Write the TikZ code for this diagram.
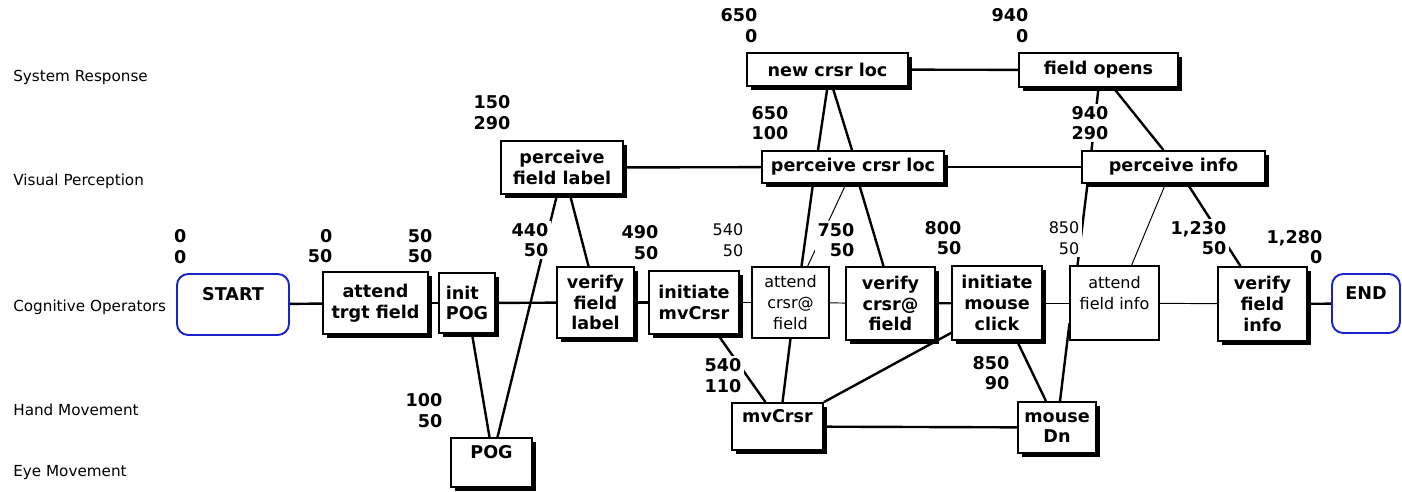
\documentclass[tikz,border=0pt]{standalone}
\usepackage{fontspec}
\setmainfont{DejaVu Sans}
\usetikzlibrary{calc,shadows,backgrounds}
\definecolor{termblue}{RGB}{25,35,205}

\begin{document}
\begin{tikzpicture}[x=0.625pt,y=-0.625pt,
  sz/.style 2 args={minimum width=#1*0.625pt,minimum height=#2*0.625pt},
  op/.style={draw,line width=1.1pt,fill=white,inner sep=1pt,align=center,
    font=\fontsize{11}{13}\selectfont\bfseries,
    drop shadow={shadow xshift=2.5pt,shadow yshift=-2.5pt,fill=black,opacity=1}},
  thinop/.style={draw,line width=0.7pt,fill=white,inner sep=1pt,align=center,
    font=\fontsize{10}{13}\selectfont},
  term/.style={draw=termblue,line width=1.2pt,rounded corners=7pt,fill=white,
    inner sep=1pt,align=center,font=\fontsize{11}{13}\selectfont\bfseries},
  lane/.style={anchor=west,inner sep=0pt,font=\fontsize{9.5}{11}\selectfont},
  tlab/.style={anchor=east,align=right,fill=white,inner sep=1.5pt,
    font=\fontsize{11}{13}\selectfont\bfseries},
  thintlab/.style={tlab,font=\fontsize{10}{13}\selectfont},
  link/.style={line width=1.5pt},
  thinlink/.style={line width=0.6pt}]
\useasboundingbox (0,0) rectangle (1402,491);

\node[lane] (lsys) at (13,77) {System Response};
\node[lane] (lvis) at (13,181) {Visual Perception};
\node[lane] (lcog) at (13,307) {Cognitive Operators};
\node[lane] (lhand) at (13,410) {Hand Movement};
\node[lane] (leye) at (13,473) {Eye Movement};

\node[term,sz={112}{61}] (start) at (233,304.5) {START\\\mbox{}};
\node[op,sz={105}{62}] (atf) at (375.5,303) {attend\\trgt field};
\node[op,sz={56}{60},align=left] (ipog) at (467,303) {init\\POG};
\node[op,sz={77}{71}] (vfl) at (595.5,302.5) {verify\\field\\label};
\node[op,sz={90}{63}] (imvc) at (694,302.5) {initiate\\mvCrsr};
\node[thinop,sz={77}{71}] (acf) at (790.5,302.5) {attend\\crsr@\\field};
\node[op,sz={89}{73}] (vcf) at (890.5,303.5) {verify\\crsr@\\field};
\node[op,sz={90}{74}] (imc) at (997,303) {initiate\\mouse\\click};
\node[thinop,sz={89}{74}] (afi) at (1114.5,303) {attend\\field info\\\mbox{}};
\node[op,sz={89}{74}] (vfi) at (1262.5,304) {verify\\field\\info};
\node[term,sz={68}{59}] (finish) at (1366,303.5) {END\\\mbox{}};

\node[op,sz={122}{53}] (pfl) at (562,167.5) {perceive\\field label};
\node[op,sz={182}{32}] (pcl) at (853,167) {perceive crsr loc};
\node[op,sz={183}{32}] (pin) at (1173.5,167) {perceive info};
\node[op,sz={161}{33}] (ncl) at (827.5,69.5) {new crsr loc};
\node[op,sz={159}{34}] (fop) at (1098.5,70) {field opens};

\node[op,sz={81}{49}] (pog) at (491.5,462.5) {POG\\\mbox{}};
\node[op,sz={91}{47}] (mvc) at (777.5,426.5) {mvCrsr\\\mbox{}};
\node[op,sz={78}{51}] (mdn) at (1057,427.5) {mouse\\Dn};

\begin{pgfonlayer}{background}
\draw[link] (start) -- (atf);
\draw[link] (atf) -- (ipog);
\draw[link] (ipog) -- (vfl);
\draw[link] (vfl) -- (imvc);
\draw[thinlink] (imvc) -- (acf);
\draw[thinlink] (acf) -- (vcf);
\draw[link] (vcf) -- (imc);
\draw[thinlink] (imc) -- (afi);
\draw[thinlink] (afi) -- (vfi);
\draw[link] (vfi) -- (finish);
\draw[link] (pfl) -- (pcl);
\draw[link] (pcl) -- (pin);
\draw[link] (ncl) -- (fop);
\draw[link] (mvc) -- (mdn);

\draw[link] ($(ipog.south)+(5,0)$) -- ($(pog.north)+(-2,0)$);
\draw[link] ($(pfl.south)+(-5,0)$) -- ($(pog.north)+(6,0)$);
\draw[link] ($(pfl.south)+(8,0)$) -- ($(vfl.north)+(-7,0)$);
\draw[link] (ncl.south) -- ($(pcl.north)+(-35,0)$);
\draw[link] ($(ncl.south)+(5,0)$) -- ($(pcl.north)+(-1,0)$);
\draw[link] ($(pcl.south)+(-40,0)$) -- ($(acf.north)+(11,0)$);
\draw[thinlink] ($(pcl.south)+(-7,0)$) -- ($(acf.north)+(17,0)$);
\draw[link] ($(pcl.south)+(6,0)$) -- ($(vcf.north)+(-7,0)$);
\draw[link] ($(imvc.south)+(24,0)$) -- ($(mvc.north)+(-12,0)$);
\draw[link] (acf.south) -- ($(mvc.north)+(5,0)$);
\draw[link] (mvc.north east) -- ($(imc.south west)+(0,-8)$);
\draw[link] ($(imc.south)+(20,0)$) -- ($(mdn.north)+(-11,0)$);
\draw[link] ($(mdn.north)+(3,0)$) -- ($(afi.south west)+(0,-17)$);
\draw[link] (fop.south) -- ($(pin.north)+(-82,0)$);
\draw[link] ($(fop.south)+(15,0)$) -- ($(pin.north)+(-10,0)$);
\draw[link] ($(pin.south)+(-86,0)$) -- ($(afi.north)+(-37,0)$);
\draw[thinlink] ($(pin.south)+(-8,0)$) -- ($(afi.north)+(17,0)$);
\draw[link] ($(pin.south)+(14,0)$) -- ($(vfi.north)+(-22,0)$);
\end{pgfonlayer}

\node[tlab] (tstart) at (189,246.5) {0\\0};
\node[tlab] (tatf) at (335,246) {0\\50};
\node[tlab] (tipog) at (435,246) {50\\50};
\node[tlab] (tpog) at (445,410.5) {100\\50};
\node[tlab] (tpfl) at (513,112.5) {150\\290};
\node[tlab] (tvfl) at (551,240) {440\\50};
\node[tlab] (timvc) at (661,242.5) {490\\50};
\node[thintlab] (tacf) at (746,240) {540\\50};
\node[tlab] (tvcf) at (857,240) {750\\50};
\node[tlab] (timc) at (964,238) {800\\50};
\node[thintlab] (tafi) at (1082,238) {850\\50};
\node[tlab] (tvfi) at (1229,238) {1,230\\50};
\node[tlab] (tfinish) at (1325,247) {1,280\\0};
\node[tlab] (tmvc) at (744,375.5) {540\\110};
\node[tlab] (tmdn) at (1012,373) {850\\90};
\node[tlab] (tncl) at (760,25.5) {650\\0};
\node[tlab] (tpcl) at (791,123) {650\\100};
\node[tlab] (tfop) at (1031,25.5) {940\\0};
\node[tlab] (tpin) at (1111,123) {940\\290};
\end{tikzpicture}
\end{document}
